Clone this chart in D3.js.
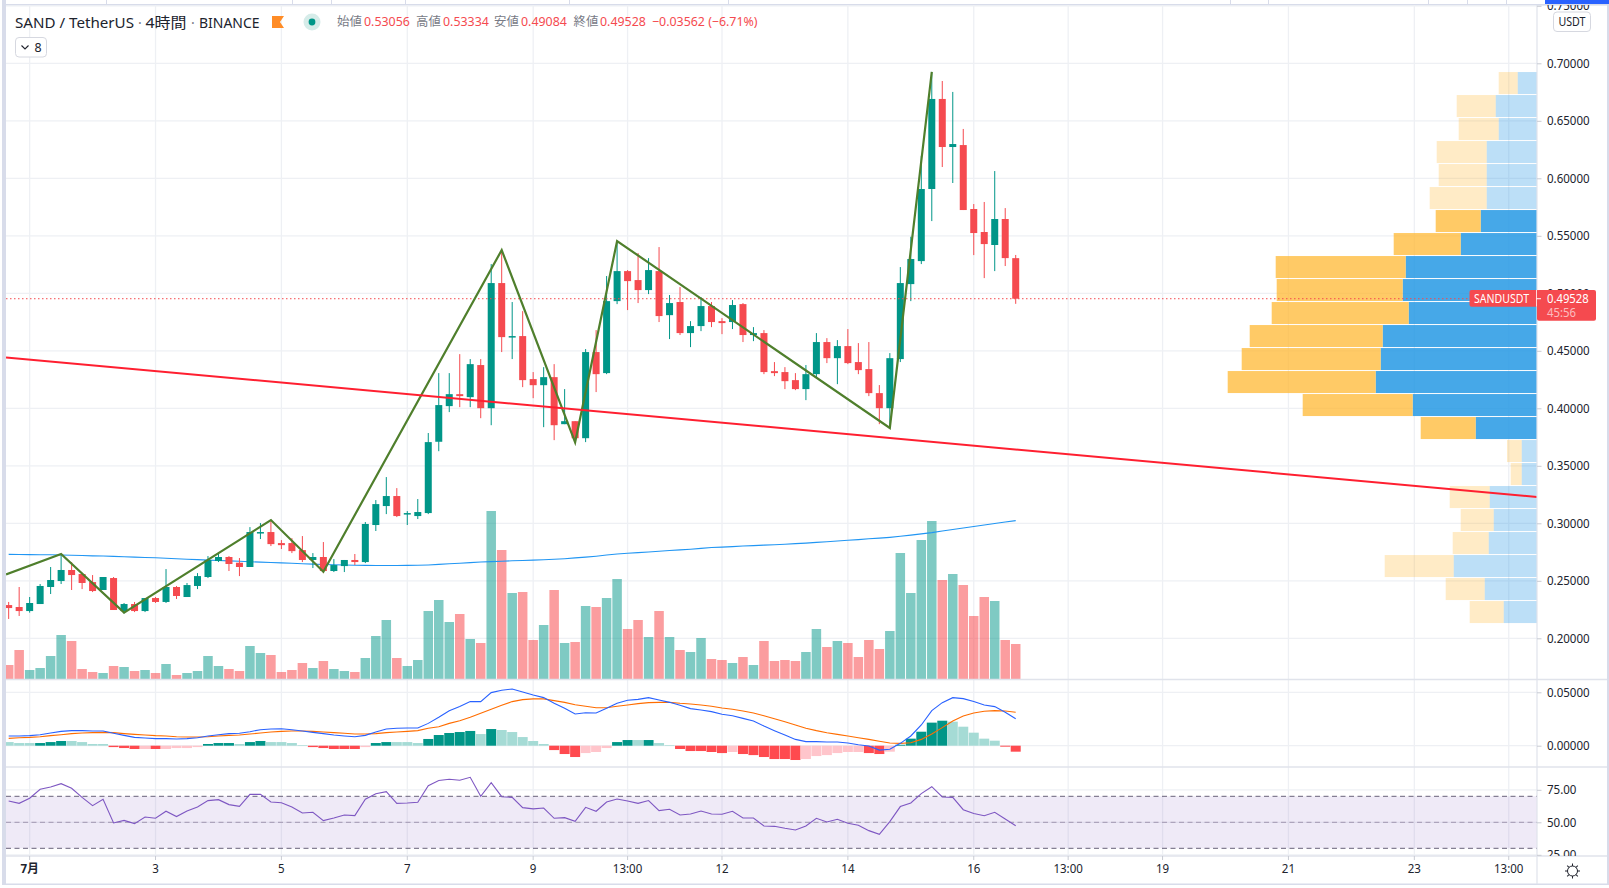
<!DOCTYPE html>
<html><head><meta charset="utf-8">
<script src="https://d3js.org/d3.v7.min.js"></script>
<style>
html,body{margin:0;padding:0;background:#fff;overflow:hidden}
svg{display:block}
text{font-family:"Noto Sans","Noto Sans CJK JP",sans-serif}
</style></head><body>
<svg id="c" width="1609" height="888"></svg>
<script>
// ---- candle data ----
const opens=[.2289,.2272,.2237,.2298,.2446,.2498,.2594,.2559,.2489,.2420,.2524,.2237,.2298,.2237,.2350,.2316,.2446,.2359,.2455,.2533,.2672,.2707,.2657,.2620,.2915,.2924,.2828,.2828,.2767,.2681,.2707,.2585,.2628,.2681,.2663,.2985,.3150,.3237,.3077,.3063,.3089,.3709,.4019,.4123,.4097,.4376,.4001,.5089,.4619,.4628,.4254,.4201,.4271,.3862,.3888,.3740,.4489,.4306,.4932,.5193,.5115,.5028,.5193,.4810,.4924,.4654,.4715,.4889,.4758,.4750,.4906,.4637,.4654,.4323,.4315,.4245,.4167,.4297,.4576,.4436,.4541,.4402,.4341,.4132,.4001,.4428,.5080,.5280,.5907,.6690,.6272,.6289,.5733,.5533,.5420,.5646,.53056];
const highs=[.2316,.2446,.2359,.2472,.2620,.2733,.2663,.2559,.2550,.2533,.2533,.2307,.2316,.2350,.2359,.2602,.2455,.2481,.2567,.2715,.2741,.2715,.2698,.2967,.3002,.3028,.2854,.2871,.2889,.2741,.2837,.2689,.2681,.2733,.3011,.3202,.3402,.3306,.3106,.3211,.3785,.4306,.4306,.4471,.4428,.4428,.5254,.5376,.4924,.4845,.4315,.4358,.4384,.4167,.3888,.4515,.4680,.5150,.5454,.5202,.5350,.5306,.5402,.4985,.5054,.4758,.4967,.4924,.4784,.4941,.4915,.4706,.4680,.4402,.4358,.4306,.4376,.4654,.4610,.4593,.4689,.4567,.4576,.4202,.4480,.5228,.5492,.6194,.6925,.6846,.6751,.6429,.5776,.5794,.6063,.5741,.53334];
const lows=[.2168,.2194,.2223,.2298,.2385,.2472,.2420,.2428,.2402,.2420,.2246,.2217,.2228,.2228,.2307,.2307,.2342,.2359,.2428,.2524,.2663,.2585,.2541,.2620,.2863,.2802,.2776,.2741,.2663,.2611,.2567,.2576,.2576,.2637,.2654,.2933,.3080,.3054,.2985,.3037,.3080,.3627,.3967,.4010,.4010,.3914,.3853,.4489,.4428,.4184,.4088,.3836,.3723,.3862,.3697,.3706,.4141,.4297,.4906,.4854,.4915,.4993,.4750,.4602,.4637,.4532,.4671,.4706,.4645,.4689,.4576,.4584,.4297,.4280,.4167,.4158,.4071,.4271,.4393,.4210,.4384,.4297,.4106,.3862,.3827,.4402,.4932,.5254,.5628,.6098,.5959,.5724,.5332,.5132,.5193,.5237,.49084];
const closes=[.2263,.2237,.2307,.2455,.2507,.2594,.2550,.2481,.2411,.2533,.2246,.2298,.2237,.2350,.2316,.2446,.2368,.2463,.2541,.2681,.2707,.2646,.2620,.2924,.2924,.2819,.2810,.2758,.2681,.2707,.2585,.2637,.2681,.2663,.2994,.3167,.3237,.3063,.3089,.3098,.3706,.4028,.4123,.4106,.4384,.4001,.5089,.4619,.4628,.4245,.4201,.4271,.3853,.3888,.3740,.4489,.4297,.4932,.5193,.5106,.5028,.5202,.4802,.4915,.4654,.4715,.4889,.4750,.4741,.4898,.4637,.4654,.4315,.4306,.4236,.4167,.4297,.4576,.4436,.4541,.4393,.4332,.4132,.4001,.4436,.5089,.5298,.5907,.6690,.6272,.6298,.5724,.5524,.5428,.5646,.5306,.49528];
const volumes=[14,29,9,11,23,44,38,10,7,6,13,12,8,9,6,15,4,6,8,23,13,10,8,33,26,24,7,9,16,11,18,10,8,7,21,43,59,21,13,19,68,79,57,65,40,36,168,129,86,87,39,54,89,36,37,73,72,81,100,50,59,42,68,42,29,27,41,20,19,16,22,14,38,18,19,18,27,50,32,38,36,22,39,30,48,126,86,139,158,99,105,94,63,82,78,39,35];
const ma=[.2730,.2729,.2728,.2727,.2726,.2724,.2722,.2720,.2717,.2715,.2712,.2709,.2706,.2703,.2700,.2696,.2692,.2688,.2684,.2680,.2677,.2673,.2670,.2666,.2662,.2659,.2656,.2652,.2648,.2645,.2642,.2640,.2637,.2635,.2634,.2633,.2633,.2633,.2634,.2635,.2638,.2643,.2648,.2653,.2658,.2663,.2667,.2670,.2674,.2677,.2680,.2683,.2687,.2692,.2699,.2706,.2714,.2724,.2733,.2739,.2745,.2751,.2757,.2763,.2769,.2775,.2782,.2789,.2793,.2797,.2802,.2806,.2810,.2814,.2818,.2823,.2828,.2834,.2840,.2846,.2852,.2858,.2865,.2871,.2878,.2887,.2897,.2908,.2919,.2933,.2946,.2959,.2972,.2985,.2998,.3011,.3023];
// ---- drawings ----
const zigzagIdx=[-0.25,5,11,25,30,47,54,58,84,88];
const zigzagPrice=[.2556,.2733,.2223,.3028,.2579,.5376,.3704,.5454,.3829,.6925];
const trendIdx=[-0.25,145.7];
const trendPrice=[.4442,.3229];
const lastPrice=.49528;
// ---- MACD ----
const macdLine=[.0091,.0091,.0094,.0103,.0119,.0134,.0141,.0141,.0138,.0138,.0116,.0097,.0078,.0072,.0066,.0066,.0063,.0066,.0075,.0091,.0103,.0113,.0116,.0131,.0150,.0156,.0159,.0150,.0138,.0125,.0113,.0100,.0091,.0084,.0097,.0128,.0156,.0163,.0166,.0166,.0209,.0266,.0328,.0366,.0413,.0413,.0497,.0519,.0531,.0503,.0475,.0450,.0397,.0350,.0297,.0309,.0306,.0350,.0397,.0425,.0434,.0450,.0428,.0406,.0378,.0347,.0334,.0319,.0294,.0281,.0256,.0231,.0184,.0141,.0100,.0059,.0038,.0038,.0034,.0034,.0025,.0009,-.0003,-.0041,-.0034,.0022,.0091,.0194,.0328,.0403,.0450,.0441,.0413,.0381,.0366,.0313,.0253];
const macdSignal=[.0069,.0075,.0078,.0084,.0094,.0103,.0113,.0119,.0122,.0125,.0122,.0113,.0106,.0100,.0094,.0091,.0084,.0081,.0081,.0084,.0091,.0097,.0100,.0109,.0119,.0128,.0134,.0138,.0138,.0134,.0128,.0122,.0116,.0109,.0109,.0113,.0122,.0128,.0134,.0141,.0163,.0178,.0209,.0234,.0266,.0303,.0341,.0378,.0413,.0431,.0438,.0438,.0422,.0406,.0384,.0369,.0356,.0356,.0369,.0381,.0394,.0403,.0406,.0406,.0397,.0391,.0381,.0369,.0353,.0341,.0325,.0306,.0281,.0253,.0225,.0194,.0163,.0141,.0122,.0106,.0091,.0075,.0059,.0041,.0025,.0022,.0028,.0059,.0109,.0169,.0231,.0278,.0306,.0322,.0328,.0325,.0313];
const macdHist=[.0034,.0025,.0025,.0025,.0034,.0044,.0044,.0034,.0016,.0016,-.0013,-.0022,-.0031,-.0031,-.0031,-.0031,-.0022,-.0022,-.0013,.0016,.0025,.0025,.0016,.0034,.0044,.0034,.0034,.0025,.0006,-.0013,-.0022,-.0031,-.0031,-.0031,-.0013,.0025,.0034,.0034,.0034,.0025,.0063,.0100,.0119,.0128,.0138,.0109,.0156,.0147,.0128,.0081,.0044,.0016,-.0041,-.0078,-.0106,-.0069,-.0059,-.0022,.0034,.0053,.0053,.0053,.0025,.0006,-.0031,-.0050,-.0050,-.0059,-.0069,-.0059,-.0078,-.0088,-.0106,-.0125,-.0125,-.0134,-.0125,-.0097,-.0088,-.0069,-.0059,-.0059,-.0069,-.0078,-.0056,.0009,.0066,.0131,.0216,.0234,.0225,.0178,.0122,.0066,.0047,-.0009,-.0056];
const macdTone="LLLDDDLLLLRRRPRPPPPDDDLDDLLLLRRRRRPDDLLLDDDDDLDLLLLLRRRPPPDDLDLLRRRRRPRRRRRRPPPPPPRRPDDDDDLLLLLRR".split("");
// ---- RSI ----
const rsi=[66.4,64.6,68.5,75.4,77.2,79.7,76.2,69.2,62.8,67.7,49.5,51.5,49.0,54.1,53.1,58.5,54.4,58.7,61.8,66.7,67.4,63.6,62.3,71.5,71.5,65.6,65.1,61.8,57.2,57.7,51.3,53.3,55.6,55.1,67.7,72.0,73.6,64.6,64.9,65.4,78.2,82.1,83.1,82.3,84.6,70.0,80.5,69.7,69.2,61.3,60.3,61.0,53.1,53.6,50.8,61.5,58.5,65.6,67.9,66.4,64.6,66.7,59.0,60.0,55.6,56.4,58.7,56.4,56.2,58.5,53.3,53.3,47.2,46.9,45.4,44.1,47.2,53.1,50.3,52.3,49.2,47.7,43.6,40.8,50.5,62.1,64.9,72.1,77.4,69.5,69.2,59.7,56.7,55.1,57.7,52.6,47.4];
// ---- volume profile, top row first ----
const profileTop=.6924, profileStep=.02;
const profileUp=[19.3,41.3,38.3,50.3,50.3,50.3,56.3,76.3,131.3,134.3,128.3,154.3,156.3,161.3,124.3,61.3,15.3,15.3,47.3,43.3,48.3,83.3,52.3,33.3];
const profileDown=[19,39,40,50,48,57,45,67,130,126,137,133,139,148,110,55,14.7,11,40,33,36,69,39,34];
const profileInValueArea=[0,0,0,0,0,0,1,1,1,1,1,1,1,1,1,1,0,0,0,0,0,0,0,0];
// ---- ticks ----
const priceTicks=[.20,.25,.30,.35,.40,.45,.50,.55,.60,.65,.70,.75];
const macdTicks=[0,.05];
const rsiTicks=[25,50,75];
const timeTickIdx=[2,14,26,38,50,59,68,80,92,101,110,122,134,143];
const timeTickLabels=["7月","3","5","7","9","13:00","12","14","16","13:00","19","21","23","13:00"];
const legendOHLC=[["始値","0.53056",337,364],["高値","0.53334",416,443],["安値","0.49084",494,521],["終値","0.49528",573.5,600]];

// ---- layout ----
const L=6,R=1537,TOP=5,MAIN_B=679.5,MACD_B=767,RSI_B=856,BOT=884;
const GREEN="#009688",RED="#f54a4f",GRID="#eef0f4",SEP="#e0e3eb",TXT="#20232d";
const svg=d3.select("#c");
const defs=svg.append("defs");
function clip(id,x,y,w,h){defs.append("clipPath").attr("id",id).append("rect").attr("x",x).attr("y",y).attr("width",w).attr("height",h)}
clip("cm",L,TOP,R-L,MAIN_B-TOP);clip("cd",L,MAIN_B,R-L,MACD_B-MAIN_B);clip("cr",L,MACD_B,R-L,RSI_B-MACD_B);
clip("am",R,TOP,72,MAIN_B-TOP);clip("ad",R,MAIN_B,72,MACD_B-MAIN_B);clip("ar",R,MACD_B,72,RSI_B-MACD_B);

const x=d3.scaleLinear().domain([0,96]).range([8.67,8.67+96*10.49]);
const yP=d3.scaleLinear().domain([.2,.7]).range([638.3,63.3]);
const yV=d3.scaleLinear().domain([0,168]).range([MAIN_B-.5,MAIN_B-.5-168]);
const yM=d3.scaleLinear().domain([0,.05]).range([745.7,692.3]);
const yR=d3.scaleLinear().domain([25,75]).range([854.8,789.8]);
const wP=d3.scaleLinear().domain([0,310]).range([0,310]);

// chrome
svg.append("rect").attr("width",1609).attr("height",888).attr("fill","#fff");
svg.append("rect").attr("x",2).attr("y",0).attr("width",4).attr("height",BOT).attr("fill","#d8dcea");
svg.append("rect").attr("x",2).attr("y",4).attr("width",1607).attr("height",1.6).attr("fill","#d8dcea");
svg.append("rect").attr("x",1607).attr("y",0).attr("width",2).attr("height",BOT).attr("fill","#d8dcea");
svg.append("rect").attr("x",2).attr("y",BOT-.5).attr("width",1607).attr("height",1.5).attr("fill","#d8dcea");
svg.append("rect").attr("x",1545).attr("y",0).attr("width",64).attr("height",4).attr("fill","#2962ff");
svg.selectAll(".tb").data([106,292,331,405,569,728,1230,1268,1428,1467,1506]).enter().append("rect").attr("x",d=>d).attr("y",0).attr("width",1).attr("height",4).attr("fill","#d8dcea");

// grid
const grid=svg.append("g").attr("stroke",GRID).attr("stroke-width",1.3);
const gv=grid.append("g");
[[TOP,MAIN_B],[MAIN_B,MACD_B],[MACD_B,RSI_B]].forEach(([a,b])=>{
  gv.selectAll(null).data(timeTickIdx).enter().append("line").attr("x1",d=>x(d)).attr("x2",d=>x(d)).attr("y1",a).attr("y2",b);
});
function hgrid(sel,vals,y,cp){sel.append("g").attr("clip-path",`url(#${cp})`).selectAll("line").data(vals).enter().append("line").attr("x1",L).attr("x2",R).attr("y1",d=>y(d)).attr("y2",d=>y(d));}
hgrid(grid,priceTicks,yP,"cm");hgrid(grid,macdTicks,yM,"cd");hgrid(grid,rsiTicks,yR,"cr");

// RSI pane
const rp=svg.append("g").attr("clip-path","url(#cr)");
rp.append("rect").attr("x",L).attr("width",R-L).attr("y",yR(70)).attr("height",yR(30)-yR(70)).attr("fill","#7e57c2").attr("fill-opacity",.125);
rp.selectAll(".b").data([70,50,30]).enter().append("line").attr("x1",L).attr("x2",R).attr("y1",d=>yR(d)).attr("y2",d=>yR(d))
  .attr("stroke",d=>d===50?"#a096b0":"#68627a").attr("stroke-width",1).attr("stroke-dasharray","5 3.5");
rp.append("path").datum(rsi).attr("fill","none").attr("stroke","#7e57c2").attr("stroke-width",1.1)
  .attr("d",d3.line().x((d,i)=>x(i)).y(d=>yR(d)));

// MACD pane
const mp=svg.append("g").attr("clip-path","url(#cd)");
const toneColor={D:"#009688",L:"#a5dbd5",R:"#ff4a4f",P:"#ffc5cb"};
mp.selectAll(".h").data(macdHist).enter().append("rect")
  .attr("x",(d,i)=>x(i)-5).attr("width",10)
  .attr("y",d=>Math.min(yM(d),yM(0))).attr("height",d=>Math.abs(yM(d)-yM(0)))
  .attr("fill",(d,i)=>toneColor[macdTone[i]]);
const mline=d3.line().x((d,i)=>x(i)).y(d=>yM(d));
mp.append("path").datum(macdSignal).attr("fill","none").attr("stroke","#ff6d00").attr("stroke-width",1.1).attr("d",mline);
mp.append("path").datum(macdLine).attr("fill","none").attr("stroke","#2962ff").attr("stroke-width",1.1).attr("d",mline);

// main pane
const cp=svg.append("g").attr("clip-path","url(#cm)");
cp.selectAll(".v").data(volumes).enter().append("rect")
  .attr("x",(d,i)=>x(i)-4.75).attr("width",9.5)
  .attr("y",d=>yV(d)).attr("height",d=>yV(0)-yV(d))
  .attr("fill",(d,i)=>closes[i]>=opens[i]?"#009688":"#f83c40").attr("fill-opacity",.5);
// volume profile
const pr=cp.append("g");
const rowH=yP(0)-yP(profileStep);
pr.selectAll(".u").data(profileUp).enter().append("rect")
  .attr("x",d=>R-wP(d)).attr("width",d=>wP(d))
  .attr("y",(d,i)=>yP(profileTop-i*profileStep)).attr("height",rowH-1)
  .attr("fill","#2196e3").attr("fill-opacity",(d,i)=>profileInValueArea[i]?.83:.3);
pr.selectAll(".d").data(profileDown).enter().append("rect")
  .attr("x",(d,i)=>R-wP(profileUp[i])-wP(d)).attr("width",d=>wP(d))
  .attr("y",(d,i)=>yP(profileTop-i*profileStep)).attr("height",rowH-1)
  .attr("fill","#ffb833").attr("fill-opacity",(d,i)=>profileInValueArea[i]?.75:.28);
// MA
cp.append("path").datum(ma).attr("fill","none").attr("stroke","#2196f3").attr("stroke-width",1.1)
  .attr("d",d3.line().x((d,i)=>x(i)).y(d=>yP(d)));
// candles
const idx=d3.range(opens.length);
const col=i=>closes[i]>=opens[i]?GREEN:RED;
cp.selectAll(".w").data(idx).enter().append("line").attr("x1",x).attr("x2",x).attr("y1",i=>yP(highs[i])).attr("y2",i=>yP(lows[i])).attr("stroke",col).attr("stroke-width",1);
cp.selectAll(".c").data(idx).enter().append("rect").attr("x",i=>x(i)-3.5).attr("width",7)
  .attr("y",i=>yP(Math.max(opens[i],closes[i]))).attr("height",i=>Math.max(1.5,Math.abs(yP(opens[i])-yP(closes[i])))).attr("fill",col);
// last price
cp.append("line").attr("x1",L).attr("x2",R).attr("y1",yP(lastPrice)).attr("y2",yP(lastPrice)).attr("stroke",RED).attr("stroke-width",1).attr("stroke-dasharray","1.5 2.5");
// zigzag
cp.append("path").datum(zigzagIdx).attr("fill","none").attr("stroke","#4f7f2c").attr("stroke-width",2.2).attr("stroke-linejoin","miter")
  .attr("d",d3.line().x(d=>x(d)).y((d,i)=>yP(zigzagPrice[i])));
// trend
cp.append("path").datum(trendIdx).attr("fill","none").attr("stroke","#ff1f30").attr("stroke-width",2)
  .attr("d",d3.line().x(d=>x(d)).y((d,i)=>yP(trendPrice[i])));

// separators and axis lines
[MAIN_B,MACD_B,RSI_B].forEach(y=>svg.append("line").attr("x1",L).attr("x2",1607).attr("y1",y).attr("y2",y).attr("stroke",SEP).attr("stroke-width",1.4));
svg.append("line").attr("x1",R).attr("x2",R).attr("y1",TOP).attr("y2",BOT).attr("stroke",SEP).attr("stroke-width",1.2);

// axes
const narrow=sel=>sel.each(function(){const n=this.getComputedTextLength();this.setAttribute("textLength",n*.945);this.setAttribute("lengthAdjust","spacingAndGlyphs");});
function yAxis(scale,vals,fmt,cp){
  const inner=svg.append("g").attr("clip-path",`url(#${cp})`);
  const g=inner.append("g").attr("transform",`translate(${R},0)`);
  g.call(d3.axisRight(scale).tickValues(vals).tickSize(4.5).tickPadding(5.5).tickFormat(fmt));
  g.select(".domain").remove();
  g.selectAll(".tick line").attr("stroke","#c8cbd3");
  g.selectAll(".tick text").attr("fill",TXT).style("font-size","12.2px").style("font-family",'"Noto Sans",sans-serif').call(narrow);
}
yAxis(yP,priceTicks,d3.format(".5f"),"am");
yAxis(yM,macdTicks,d3.format(".5f"),"ad");
yAxis(yR,rsiTicks,d3.format(".2f"),"ar");
const tg=svg.append("g").attr("transform",`translate(-0.5,${RSI_B})`);
tg.call(d3.axisBottom(x).tickValues(timeTickIdx).tickSize(4).tickPadding(4).tickFormat((d,i)=>timeTickLabels[i]));
tg.select(".domain").remove();
tg.selectAll(".tick line").attr("stroke","#c8cbd3");
tg.selectAll(".tick text").attr("fill",TXT).style("font-size","12.2px").style("font-family",'"Noto Sans","Noto Sans CJK JP",sans-serif').style("font-weight",(d,i)=>i===0?"700":"400").call(narrow);

// price label
function fit(sel,w){return sel.attr("textLength",w).attr("lengthAdjust","spacingAndGlyphs")}
svg.append("rect").attr("x",1469.5).attr("y",290).attr("width",70).attr("height",16.7).attr("rx",2).attr("fill",RED);
svg.append("rect").attr("x",R).attr("y",290).attr("width",59).attr("height",30.7).attr("rx",2).attr("fill",RED);
svg.append("line").attr("x1",R-.5).attr("x2",R+4).attr("y1",yP(lastPrice)).attr("y2",yP(lastPrice)).attr("stroke","#fff");
svg.append("line").attr("x1",R-.5).attr("x2",R-.5).attr("y1",290).attr("y2",306.7).attr("stroke","#fff").attr("stroke-width",.8);
fit(svg.append("text").attr("x",1474).attr("y",303).attr("fill","#fff").style("font-size","12.2px").text("SANDUSDT"),55);
fit(svg.append("text").attr("x",1547).attr("y",303).attr("fill","#fff").style("font-size","12.2px").text(d3.format(".5f")(lastPrice)),41.7);
fit(svg.append("text").attr("x",1547).attr("y",317).attr("fill","#fff").attr("fill-opacity",.65).style("font-size","12.2px").text("45:56"),29);

// USDT button
svg.append("rect").attr("x",1553.5).attr("y",12).attr("width",37).attr("height",19.5).attr("rx",3.5).attr("fill","#fff").attr("stroke","#d6d8e0");
fit(svg.append("text").attr("x",1558.5).attr("y",26).attr("fill",TXT).style("font-size","12.2px").text("USDT"),27);

// legend
const lg=svg.append("g");
function t(x0,y0,s,fill,size){return lg.append("text").attr("x",x0).attr("y",y0).attr("fill",fill).style("font-size",size+"px").text(s)}
fit(t(15,28,"SAND / TetherUS",TXT,15.2),119);
t(138,28,"·","#787b86",14);
fit(t(145.4,28,"4時間",TXT,14.6),41);
t(191,28,"·","#787b86",14);
fit(t(199,28,"BINANCE",TXT,15.2),60.5);
lg.append("path").attr("d","M272 16H284L280 22L284 28H272Z").attr("fill","#ff8c26");
lg.append("circle").attr("cx",312).attr("cy",22).attr("r",8.5).attr("fill","#d6ece9");
lg.append("circle").attr("cx",312).attr("cy",22).attr("r",3.4).attr("fill","#009688");
legendOHLC.forEach(([a,b,xa,xb])=>{t(xa,26,a,"#787b86",12.4);t(xb,26,b,RED,12.4)});
t(652,26,"−0.03562 (−6.71%)",RED,12.4);
lg.append("rect").attr("x",15.5).attr("y",37.5).attr("width",31).attr("height",19.5).attr("rx",3.5).attr("fill","#fff").attr("stroke","#d6d8e0");
lg.append("path").attr("d","M21.5 45.5L25 49L28.5 45.5").attr("fill","none").attr("stroke","#20232d").attr("stroke-width",1.1);
t(34.5,52,"8",TXT,12.4);

// gear
const gear=svg.append("g").attr("transform","translate(1572.5,871)").attr("fill","none").attr("stroke","#20232d").attr("stroke-width",1);
gear.append("circle").attr("r",5);
gear.selectAll("line").data(d3.range(8)).enter().append("line").attr("x1",5).attr("x2",7.5).attr("transform",d=>`rotate(${d*45})`);
</script>
</body></html>
